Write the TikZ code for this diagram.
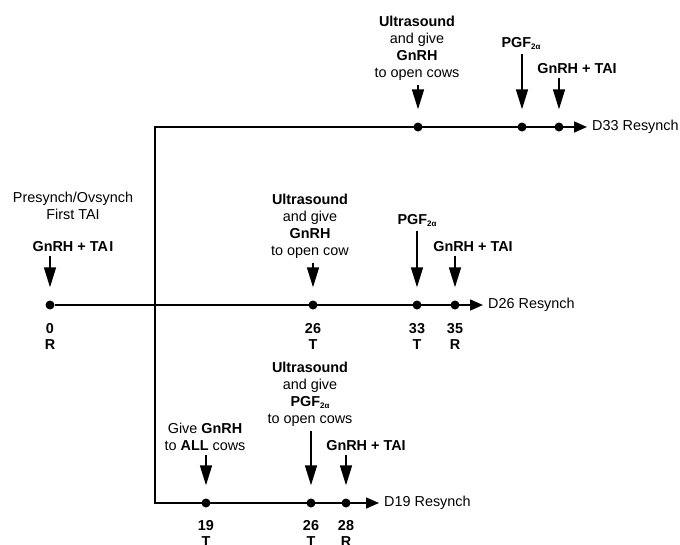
\documentclass[tikz,border=0pt]{standalone}
\usepackage{fontspec}
\setmainfont{Liberation Sans}
\usetikzlibrary{arrows.meta,positioning}

\newcommand{\pgftwoa}{PGF\raisebox{-2pt}{\fontsize{8}{8}\selectfont 2α}}

\tikzset{
  endtip/.tip={Triangle[width=11pt,length=13pt]},
  evtip/.tip={Triangle[width=12pt,length=20pt]},
  tline/.style={line width=1.6pt, line join=miter},
  evarrow/.style={line width=1.6pt, -evtip, shorten <=4pt, shorten >=13pt},
  daydot/.style={circle, fill, inner sep=0pt, minimum size=9pt},
  evlabel/.style={anchor=south, inner sep=0pt, align=center, font=\fontsize{14.4}{17}\selectfont},
  daylabel/.style={inner sep=0pt, align=center, font=\fontsize{14.4}{16}\selectfont\bfseries},
  resynch/.style={anchor=west, inner sep=0pt, font=\fontsize{14.4}{17}\selectfont},
}

\begin{document}
\begin{tikzpicture}[x=1pt,y=-1pt]
    \useasboundingbox (0,0) rectangle (680,544);

    % --- Corners of the resynch branch ---
    \coordinate (c33) at (155,127);
    \coordinate (c19) at (155,503);

    % --- Day dots ---
    \node[daydot] (d33a) at (418,127) {};
    \node[daydot] (d33b) at (522,127) {};
    \node[daydot] (d33c) at (559,127) {};

    \node[daydot] (d0)   at (50,305) {};
    \node[daydot] (d26a) at (313,305) {};
    \node[daydot] (d26b) at (417,305) {};
    \node[daydot] (d26c) at (455,305) {};

    \node[daydot] (d19a) at (206,503) {};
    \node[daydot] (d19b) at (311,503) {};
    \node[daydot] (d19c) at (346,503) {};

    % --- Line ends ---
    \node[resynch] (r33) at (592,127) {D33 Resynch};
    \node[resynch] (r26) at (488,305) {D26 Resynch};
    \node[resynch] (r19) at (384,503) {D19 Resynch};

    % Timelines
    \draw[tline, endtip-endtip, shorten <=5pt, shorten >=5pt] (r33.west) -- (c33) -- (c19) -- (r19.west);
    \draw[tline, -endtip, shorten >=5pt] (d0) -- (r26.west);

    % --- D33 events (top) ---
    \node[evlabel] (u33) at (417,81)
         {\textbf{Ultrasound}\\and give\\\textbf{GnRH}\\to open cows};
    \node[evlabel] (p33) at (521,50) {\textbf{\pgftwoa}};
    \node[evlabel] (g33) at (577,74) {\textbf{GnRH + TAI}};

    \draw[evarrow] (d33a |- u33.south) -- (d33a.north);
    \draw[evarrow] (d33b |- p33.south) -- (d33b.north);
    \draw[evarrow] (d33c |- g33.south) -- (d33c.north);

    % --- First TAI and D26 events (middle) ---
    \node[evlabel] (pre0) at (73,252)
         {Presynch/Ovsynch\\First TAI\\[15pt]\textbf{GnRH + TA\kern1.5pt I}};
    \node[evlabel] (u26) at (310,259)
         {\textbf{Ultrasound}\\and give\\\textbf{GnRH}\\to open cow};
    \node[evlabel] (p26) at (417,227) {\textbf{\pgftwoa}};
    \node[evlabel] (g26) at (473,252) {\textbf{GnRH + TAI}};

    \draw[evarrow] (d0 |- pre0.south) -- (d0.north);
    \draw[evarrow] (d26a |- u26.south) -- (d26a.north);
    \draw[evarrow] (d26b |- p26.south) -- (d26b.north);
    \draw[evarrow] (d26c |- g26.south) -- (d26c.north);

    % Days below the middle line
    \node[daylabel, below=13.5pt of d0]   (t0)  {0\\R};
    \node[daylabel, below=13.5pt of d26a] (t26) {26\\T};
    \node[daylabel, below=13.5pt of d26b] (t33) {33\\T};
    \node[daylabel, below=13.5pt of d26c] (t35) {35\\R};

    % --- D19 events (bottom) ---
    \node[evlabel] (give19) at (205,451) {Give \textbf{GnRH}\\to \textbf{ALL} cows};
    \node[evlabel] (u19) at (310,427)
         {\textbf{Ultrasound}\\and give\\\textbf{\pgftwoa}\\to open cows};
    \node[evlabel] (g19) at (366,451) {\textbf{GnRH + TAI}};

    \draw[evarrow] (d19a |- give19.south) -- (d19a.north);
    \draw[evarrow] (d19b |- u19.south) -- (d19b.north);
    \draw[evarrow] (d19c |- g19.south) -- (d19c.north);

    % Days below the bottom line
    \node[daylabel, below=13pt of d19a] (t19)  {19\\T};
    \node[daylabel, below=13pt of d19b] (t19b) {26\\T};
    \node[daylabel, below=13pt of d19c] (t28)  {28\\R};

\end{tikzpicture}
\end{document}
